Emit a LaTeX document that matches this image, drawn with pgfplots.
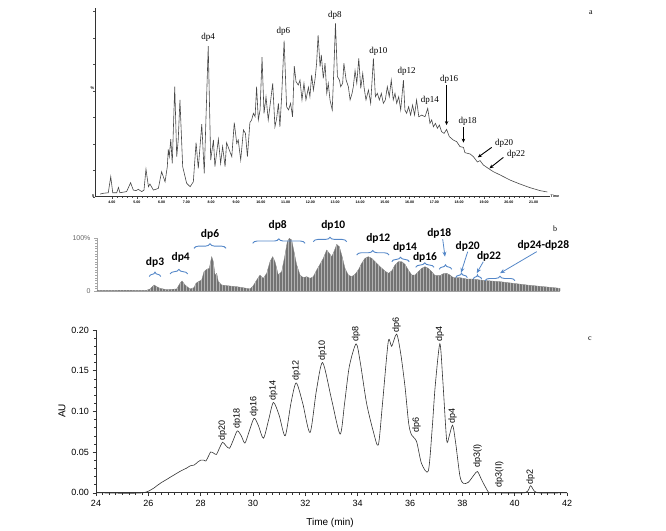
\documentclass[border=0pt]{standalone}
\usepackage{fontspec}
\setmainfont{Liberation Sans}
\newfontfamily\serif{Liberation Serif}
\newfontfamily\cali{Carlito}
\usepackage{pgfplots}
\pgfplotsset{compat=1.18}
\usetikzlibrary{decorations.pathreplacing,arrows.meta,patterns}
\definecolor{bblue}{RGB}{84,135,200}
\pgfplotstableread{
x y
0 1
49.7 1.3
53 3.8
57 11.3
59.7 8.1
63 5
69.7 2.5
79.7 3.8
83 14.4
85 18.8
88 11.3
93 3.8
97 6.3
99 14.4
101.3 17.5
104.7 20.6
107 36.3
109.7 40.6
112.3 42.5
114.7 64.4
116.3 55
118 30
119.7 33.1
121.3 17.5
124.7 11.3
129.7 10
139.7 8.1
149.7 5
153 3.8
156.3 10
159.7 20.6
163 30
166.3 23.8
169.7 33.1
173 55
175.7 64.4
178 55
181.3 30
184.7 36.3
188 67.5
190.3 92.5
192.3 98.8
194.7 95.6
197 73.8
199.7 48.8
203 30
206.3 25
209.7 26.9
213 23.8
216.3 26.9
219.7 39.4
223 50
226.3 61.3
229.7 76.9
232.3 70.6
234.7 64.4
237 73.8
239.7 87.5
242.3 83.1
244.7 67.5
248 42.5
251.3 30
254.7 26.9
258 31.3
261.3 39.4
264.7 51.9
268 61.3
271.3 64.4
274.7 61.3
278 55
283 45.6
288 37.5
291.3 33.1
294.7 37.5
298 48.8
301.3 55
304.7 55
308 50
311.3 39.4
314.7 30
318 30
321.3 36.3
324.7 42.5
328 45.6
331.3 42.5
334.7 36.3
338 28.8
343 28.8
346.3 32.5
349.7 33.1
353 30
356.3 25
363 25
369.7 22.5
376.3 22.5
383 20.6
389.7 19.4
403 17.5
416.3 14.4
429.7 11.3
443 8.8
456.3 6.3
463 5
}\ms
\begin{document}
\begin{tikzpicture}
\path (0pt,0pt) rectangle (666pt,529pt);
% ---------------- panel a ----------------
\begin{axis}[at={(95pt,332.3pt)}, anchor=south west, scale only axis,
  width=455pt, height=189pt, xmin=3.315, xmax=21.66, ymin=0, ymax=100,
  axis x line*=bottom, axis y line*=left, axis line style={-, line width=0.4pt, black!80},
  xtick={4,...,21}, xticklabels={4.00,5.00,6.00,7.00,8.00,9.00,10.00,11.00,12.00,13.00,14.00,15.00,16.00,17.00,18.00,19.00,20.00,21.00},
  minor x tick num=4, ytick={0,14,...,98}, yticklabels={},
  tick align=outside, major tick length=2pt, minor tick length=1.2pt,
  tick style={black!70, line width=0.3pt},
  xticklabel style={font=\fontsize{3.6}{4}\selectfont\bfseries, yshift=1pt},
  /pgf/number format/assume math mode=true, clip=false]
\addplot[black!72, line width=0.6pt] coordinates {
(3.52,1.4)(3.65,1.8)(3.85,2.1)(3.95,10.6)(4.03,2.1)(4.19,2.1)(4.26,4.9)(4.32,2.1)
(4.59,2.7)(4.75,7.4)(4.86,3.5)(4.97,3.2)(5.06,3.9)(5.20,2.7)(5.29,3.5)(5.37,14.6)
(5.47,5.3)(5.53,6.7)(5.67,3.5)(5.87,4.4)(6.00,13.2)(6.14,7.9)(6.23,15.9)(6.27,25.0)
(6.31,21.2)(6.37,30.4)(6.43,17.6)(6.53,58.2)(6.61,21.2)(6.67,30.0)(6.74,51.2)(6.85,15.9)
(7.01,7.1)(7.15,5.3)(7.28,7.9)(7.39,28.6)(7.48,15.0)(7.62,38.4)(7.72,12.4)(7.88,79.7)
(7.98,19.4)(8.09,30.0)(8.15,15.9)(8.29,30.4)(8.38,17.6)(8.46,26.5)(8.56,15.9)(8.62,28.6)
(8.73,24.7)(8.83,21.2)(8.93,39.2)(9.03,28.2)(9.09,30.0)(9.19,19.4)(9.30,35.3)(9.38,33.5)
(9.46,21.2)(9.56,39.2)(9.63,40.6)(9.70,44.1)(9.77,42.3)(9.83,58.2)(9.90,40.6)(9.97,45.9)
(10.05,73.8)(10.13,44.1)(10.21,52.9)(10.30,40.6)(10.40,51.2)(10.48,60.0)(10.57,37.0)(10.64,41.5)
(10.71,49.4)(10.77,37.0)(10.84,52.9)(10.94,82.6)(11.04,47.6)(11.12,45.9)(11.20,49.4)(11.28,42.3)
(11.35,69.1)(11.42,60.9)(11.51,59.1)(11.58,61.7)(11.66,51.2)(11.74,60.0)(11.82,51.2)(11.92,57.9)
(11.98,52.9)(12.05,64.4)(12.12,56.4)(12.19,62.6)(12.25,70.6)(12.31,85.5)(12.39,68.8)(12.44,75.0)
(12.52,62.6)(12.59,70.6)(12.66,54.7)(12.72,60.0)(12.79,51.2)(12.88,45.9)(12.95,68.8)(13.01,91.7)
(13.09,63.5)(13.17,61.7)(13.22,58.2)(13.30,60.0)(13.35,70.6)(13.44,61.7)(13.53,58.2)(13.60,51.2)
(13.68,54.7)(13.73,58.2)(13.80,66.7)(13.87,60.0)(13.95,73.2)(14.03,57.3)(14.11,65.3)(14.16,58.2)
(14.24,51.2)(14.34,56.4)(14.43,49.4)(14.54,73.2)(14.62,52.9)(14.70,54.7)(14.78,51.2)(14.86,54.7)
(14.94,49.4)(15.02,51.2)(15.10,58.2)(15.18,52.9)(15.26,61.7)(15.34,51.2)(15.41,54.7)(15.48,49.4)
(15.56,52.9)(15.64,45.9)(15.75,61.7)(15.81,45.9)(15.88,44.1)(15.96,47.6)(16.04,43.2)(16.12,48.5)
(16.20,43.2)(16.28,51.2)(16.37,42.3)(16.49,43.2)(16.62,42.3)(16.73,46.7)(16.82,38.8)(16.89,40.6)
(16.96,37.0)(17.04,38.8)(17.12,36.2)(17.20,37.9)(17.29,34.4)(17.39,33.5)(17.49,35.6)(17.60,31.8)
(17.76,30.0)(17.90,29.1)(18.03,26.5)(18.17,26.1)(18.23,23.3)(18.44,22.6)(18.57,21.2)(18.73,18.4)
(18.84,19.1)(18.97,16.8)(19.17,15.0)(19.38,13.2)(19.65,11.5)(20.05,8.8)(20.45,6.7)(20.85,4.8)
(21.26,3.2)(21.55,2.5)};
\begin{scope}[font=\serif\fontsize{9}{10}\selectfont]
\node at (axis cs:7.88,84.1) {dp4};
\node at (axis cs:10.91,87.3) {dp6};
\node at (axis cs:12.99,95.8) {dp8};
\node at (axis cs:14.74,77.1) {dp10};
\node at (axis cs:15.88,66.5) {dp12};
\node at (axis cs:16.82,50.8) {dp14};
\node at (axis cs:17.59,62.3) {dp16};
\node at (axis cs:18.34,39.7) {dp18};
\node at (axis cs:19.81,28.4) {dp20};
\node at (axis cs:20.29,22.6) {dp22};
\end{scope}
\begin{scope}[-{Stealth[length=4pt,width=3.5pt]}, line width=0.9pt]
\draw (axis cs:17.49,59.1) -- (axis cs:17.49,37.9);
\draw (axis cs:18.17,37.0) -- (axis cs:18.17,28.6);
\draw (axis cs:19.31,26.1) -- (axis cs:18.75,20.8);
\draw (axis cs:19.78,20.8) -- (axis cs:19.22,15.0);
\end{scope}
\node[anchor=east, font=\fontsize{4}{5}\selectfont\bfseries, inner sep=0.5pt] at (axis cs:3.315,57.4) {\%};
\node[anchor=east, font=\fontsize{4}{5}\selectfont\bfseries, inner sep=0.5pt] at (axis cs:3.315,0.5) {5};
\node[anchor=west, font=\fontsize{3.6}{4}\selectfont\bfseries, inner sep=0.5pt] at (axis cs:21.66,0) {Time};
\end{axis}
\node[font=\serif\fontsize{8}{9}\selectfont] at (591pt,516pt) {a};
% ---------------- panel b ----------------
\begin{axis}[at={(97pt,238pt)}, anchor=south west, scale only axis,
  width=463pt, height=53.3pt, xmin=0, xmax=463, ymin=0, ymax=100,
  axis x line*=bottom, axis y line*=left, axis line style={-, gray!70, line width=0.4pt},
  xtick=\empty, ytick={0,100}, yticklabels={0,100\%}, minor ytick={5,10,...,95},
  tick align=outside, major tick length=3pt, minor tick length=2pt,
  tick style={gray!70, line width=0.3pt},
  yticklabel style={font=\fontsize{7}{8}\selectfont, text=gray!80!black},
  /pgf/number format/assume math mode=true, clip=false]
\addplot[fill=black!55, draw=black!50, line width=0.3pt] table[x=x,y=y] {\ms} \closedcycle;
\addplot[pattern=vertical lines, pattern color=black!30, draw=none] table[x=x,y=y] {\ms} \closedcycle;
\begin{scope}[bblue, line width=0.9pt, decoration={brace, amplitude=4.5pt}]
\draw[decorate] (axis cs:52.3,27) -- (axis cs:63.7,27);
\draw[decorate] (axis cs:73,32) -- (axis cs:90.7,32);
\draw[decorate] (axis cs:97,80) -- (axis cs:129,80);
\draw[decorate] (axis cs:155.7,89.5) -- (axis cs:208,89.5);
\draw[decorate] (axis cs:216.3,92.5) -- (axis cs:249.7,92.5);
\draw[decorate] (axis cs:259.7,67.5) -- (axis cs:292,67.5);
\draw[decorate] (axis cs:294.7,55) -- (axis cs:312.3,55);
\draw[decorate] (axis cs:318.7,44.5) -- (axis cs:337,44.5);
\draw[decorate] (axis cs:342.3,40.7) -- (axis cs:354.7,40.7);
\draw[decorate] (axis cs:358.7,25) -- (axis cs:370.3,25);
\draw[decorate] (axis cs:376.3,22) -- (axis cs:384.7,22);
\draw[decorate] (axis cs:388,19.3) -- (axis cs:418,19.3);
\end{scope}
\begin{scope}[bblue, line width=0.8pt, -{Stealth[length=5pt,width=4pt]}]
\draw (axis cs:345.7,97.2) -- (axis cs:348,64.4);
\draw (axis cs:370.7,73.8) -- (axis cs:364,34.3);
\draw (axis cs:386.3,55) -- (axis cs:379.7,33.3);
\draw (axis cs:439.7,73.8) -- (axis cs:403,33.3);
\end{scope}
\begin{scope}[font=\cali\bfseries\fontsize{11.5}{12}\selectfont]
\node at (axis cs:58,53.6) {dp3};
\node at (axis cs:83.7,62.9) {dp4};
\node at (axis cs:113,106.4) {dp6};
\node at (axis cs:180.7,122.7) {dp8};
\node at (axis cs:236.3,122.7) {dp10};
\node at (axis cs:281.3,98.5) {dp12};
\node at (axis cs:308,81.6) {dp14};
\node at (axis cs:328,62.9) {dp16};
\node at (axis cs:342.3,107.2) {dp18};
\node at (axis cs:370.7,84.4) {dp20};
\node at (axis cs:392,64.4) {dp22};
\node[anchor=west] at (axis cs:417,85) {dp24-dp28};
\end{scope}
\end{axis}
\node[font=\serif\fontsize{8}{9}\selectfont] at (555pt,300pt) {b};
% ---------------- panel c ----------------
\begin{axis}[at={(96pt,36.3pt)}, anchor=south west, scale only axis,
  width=471pt, height=162.7pt, xmin=24, xmax=42, ymin=0, ymax=0.2,
  axis x line*=bottom, axis y line*=left, axis line style={-, line width=0.5pt, black!80},
  xtick={24,26,...,42}, minor x tick num=7,
  ytick={0,0.05,0.1,0.15,0.2}, minor y tick num=4,
  tick align=outside, major tick length=3.5pt, minor tick length=2pt,
  tick style={black!80, line width=0.4pt},
  scaled y ticks=false,
  yticklabel style={/pgf/number format/fixed, /pgf/number format/fixed zerofill, /pgf/number format/precision=2},
  tick label style={font=\fontsize{9}{10}\selectfont},
  /pgf/number format/assume math mode=true, clip=false]
\addplot[black!80, line width=0.6pt, smooth, tension=0.45] coordinates {
(24,0)(25.81,0)(26.5,0.0125)(27.2,0.026)(27.45,0.030)(27.6,0.033)(27.75,0.034)(27.9,0.038)
(28.0,0.040)(28.12,0.040)(28.2,0.039)(28.3,0.045)(28.38,0.050)(28.48,0.049)(28.6,0.047)
(28.72,0.055)(28.84,0.062)(28.96,0.058)(29.1,0.0546)(29.25,0.065)(29.4,0.076)(29.55,0.070)
(29.69,0.061)(29.85,0.075)(30.04,0.0915)(30.2,0.083)(30.4,0.067)(30.6,0.090)(30.78,0.111)
(31.0,0.095)(31.23,0.070)(31.45,0.110)(31.65,0.135)(31.9,0.110)(32.18,0.074)(32.42,0.125)
(32.66,0.160)(33.0,0.115)(33.33,0.072)(33.5,0.110)(33.68,0.155)(33.94,0.183)(34.1,0.160)
(34.34,0.110)(34.6,0.075)(34.79,0.0587)(34.95,0.110)(35.17,0.186)(35.3,0.180)(35.49,0.195)
(35.65,0.170)(35.81,0.130)(35.95,0.085)(36.06,0.071)(36.25,0.063)(36.44,0.036)(36.7,0.0267)
(36.85,0.080)(36.96,0.130)(37.14,0.183)(37.25,0.140)(37.4,0.065)(37.5,0.070)(37.63,0.083)
(37.75,0.060)(37.91,0.020)(38.04,0.0115)(38.23,0.0128)(38.45,0.022)(38.58,0.026)(38.75,0.015)
(38.99,0.001)(39.1,0)(40.39,0)(40.61,0.0086)(40.86,0)(42,0)};
\begin{scope}[font=\fontsize{9}{10}\selectfont, inner sep=1pt]
\node[rotate=90,anchor=west] at (axis cs:28.84,0.063) {dp20};
\node[rotate=90,anchor=west] at (axis cs:29.4,0.077) {dp18};
\node[rotate=90,anchor=west] at (axis cs:30.04,0.092) {dp16};
\node[rotate=90,anchor=west] at (axis cs:30.78,0.112) {dp14};
\node[rotate=90,anchor=west] at (axis cs:31.65,0.136) {dp12};
\node[rotate=90,anchor=west] at (axis cs:32.66,0.161) {dp10};
\node[rotate=90,anchor=west] at (axis cs:33.94,0.184) {dp8};
\node[rotate=90,anchor=west] at (axis cs:35.49,0.196) {dp6};
\node[rotate=90,anchor=west] at (axis cs:36.25,0.073) {dp6};
\node[rotate=90,anchor=west] at (axis cs:37.14,0.184) {dp4};
\node[rotate=90,anchor=west] at (axis cs:37.63,0.084) {dp4};
\node[rotate=90,anchor=west] at (axis cs:38.58,0.029) {dp3(I)};
\node[rotate=90,anchor=west] at (axis cs:39.41,0.005) {dp3(II)};
\node[rotate=90,anchor=west] at (axis cs:40.61,0.009) {dp2};
\end{scope}
\end{axis}
\node[font=\fontsize{10}{11}\selectfont, rotate=90] at (62pt,118pt) {AU};
\node[font=\fontsize{10}{11}\selectfont] at (330pt,6pt) {Time (min)};
\node[font=\serif\fontsize{8}{9}\selectfont] at (590pt,190pt) {c};
\end{tikzpicture}
\end{document}
